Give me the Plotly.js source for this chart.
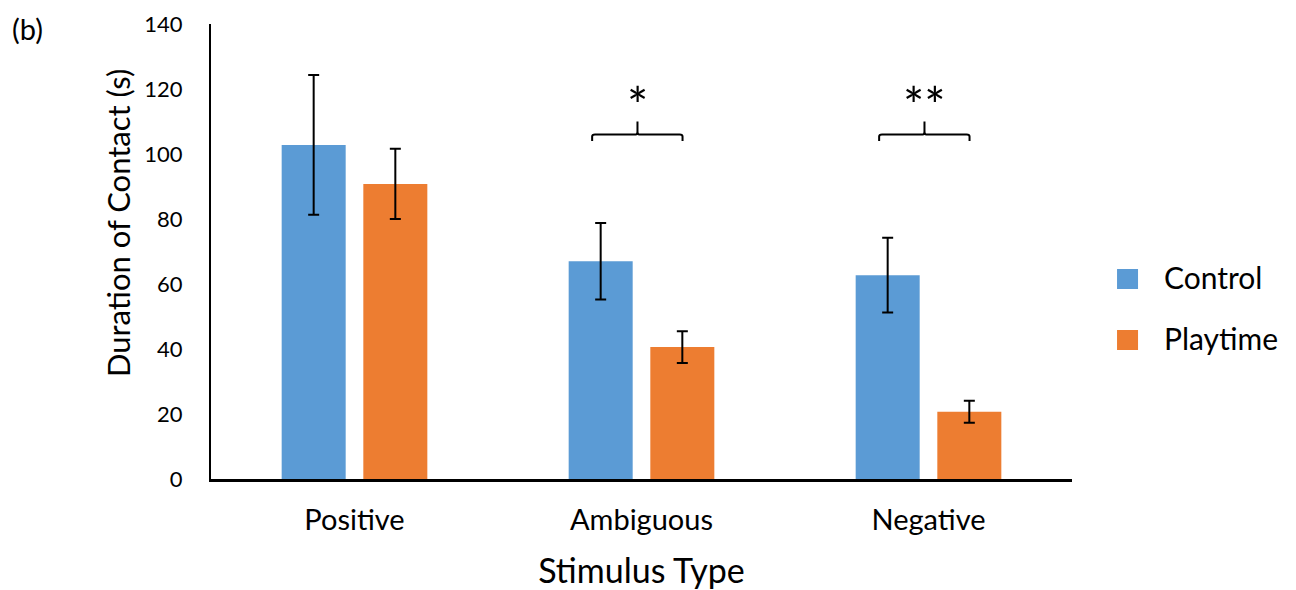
<!DOCTYPE html>
<html>
<head>
<meta charset="utf-8">
<script src="https://cdn.plot.ly/plotly-3.0.1.min.js"></script>
<style>html,body{margin:0;padding:0;background:#fff;}#chart{width:1296px;height:590px;}</style>
</head>
<body>
<div id="chart"></div>
<script>
const categories = ["Positive", "Ambiguous", "Negative"];
const seriesNames = ["Control", "Playtime"];
const controlValues = [102.8, 67.0, 62.7];
const controlErrors = [21.5, 11.8, 11.5];
const playtimeValues = [90.8, 40.6, 20.7];
const playtimeErrors = [10.8, 4.9, 3.4];
const yTicks = [0, 20, 40, 60, 80, 100, 120, 140];
const significance = [{cat: 1, label: "*"}, {cat: 2, label: "**"}];

const FONT = "Lato, 'Open Sans', sans-serif";
const colors = ["#5B9BD5", "#ED7D31"];

const errStyle = {type: "data", visible: true, color: "#000", thickness: 2, width: 5.5};

const traces = [
  {type: "bar", name: seriesNames[0], x: categories, y: controlValues,
   marker: {color: colors[0]}, error_y: Object.assign({array: controlErrors}, errStyle), showlegend: false},
  {type: "bar", name: seriesNames[1], x: categories, y: playtimeValues,
   marker: {color: colors[1]}, error_y: Object.assign({array: playtimeErrors}, errStyle), showlegend: false}
];

const shapes = [];
const annotations = [];

// significance brackets
significance.forEach(s => {
  const c = s.cat;
  const x0 = c - 0.172, x1 = c + 0.143, xm = c - 0.014;
  shapes.push({type: "path", xref: "x", yref: "y",
    path: `M ${x0},104 L ${x0},105.4 Q ${x0},106 ${x0+0.01},106 L ${xm-0.006},106 Q ${xm},106 ${xm},107 L ${xm},110 M ${xm},107 Q ${xm},106 ${xm+0.006},106 L ${x1-0.01},106 Q ${x1},106 ${x1},105.4 L ${x1},104`,
    line: {color: "#000", width: 2}});
  annotations.push({xref: "x", yref: "y", x: xm, y: 118.8, text: s.label, showarrow: false,
    font: {family: FONT, size: 50, color: "#000"}, xanchor: "center", yanchor: "middle", yshift: -12});
});

// legend (drawn)
const legendItems = [{name: seriesNames[0], color: colors[0], y0: 0.4615, y1: 0.4176, ty: 0.4440},
                     {name: seriesNames[1], color: colors[1], y0: 0.3275, y1: 0.2835, ty: 0.3099}];
legendItems.forEach(it => {
  shapes.push({type: "rect", xref: "paper", yref: "paper", x0: 1.0523, x1: 1.0767, y0: it.y1, y1: it.y0,
    fillcolor: it.color, line: {width: 0}});
  annotations.push({xref: "paper", yref: "paper", x: 1.1040, y: it.ty, text: it.name, showarrow: false,
    xanchor: "left", yanchor: "middle", font: {family: FONT, size: 30, color: "#000"}});
});

// y-axis title
annotations.push({xref: "paper", yref: "paper", x: -0.108, y: 0.5626, text: "Duration of Contact (s)",
  textangle: -90, showarrow: false, xanchor: "center", yanchor: "middle",
  font: {family: FONT, size: 31, color: "#000"}});
// panel label
annotations.push({xref: "paper", yref: "paper", x: -0.2334, y: 0.991, text: "(b)", showarrow: false,
  xanchor: "left", yanchor: "middle", font: {family: FONT, size: 29, color: "#000"}});

const layout = {
  width: 1296, height: 590,
  margin: {l: 211, r: 224, t: 24, b: 111},
  paper_bgcolor: "#fff", plot_bgcolor: "#fff",
  barmode: "group", bargap: 0.431, bargroupgap: 0.216,
  font: {family: FONT, color: "#000"},
  xaxis: {
    range: [-0.5, 2.5], showline: true, linecolor: "#000", linewidth: 2.5, ticks: "",
    showgrid: false, zeroline: false,
    tickfont: {family: FONT, size: 29, color: "#000"}, ticklabelstandoff: 14,
    title: {text: "Stimulus Type", font: {family: FONT, size: 34, color: "#000"}, standoff: 24}
  },
  yaxis: {
    range: [0, 140], tickvals: yTicks, showline: true, linecolor: "#000", linewidth: 2, ticks: "",
    showgrid: false, zeroline: false,
    tickfont: {family: FONT, size: 22, color: "#000"}, ticklabelstandoff: 22
  },
  shapes: shapes,
  annotations: annotations,
  showlegend: false
};

Plotly.newPlot("chart", traces, layout, {displayModeBar: false, staticPlot: true});
</script>
</body>
</html>
